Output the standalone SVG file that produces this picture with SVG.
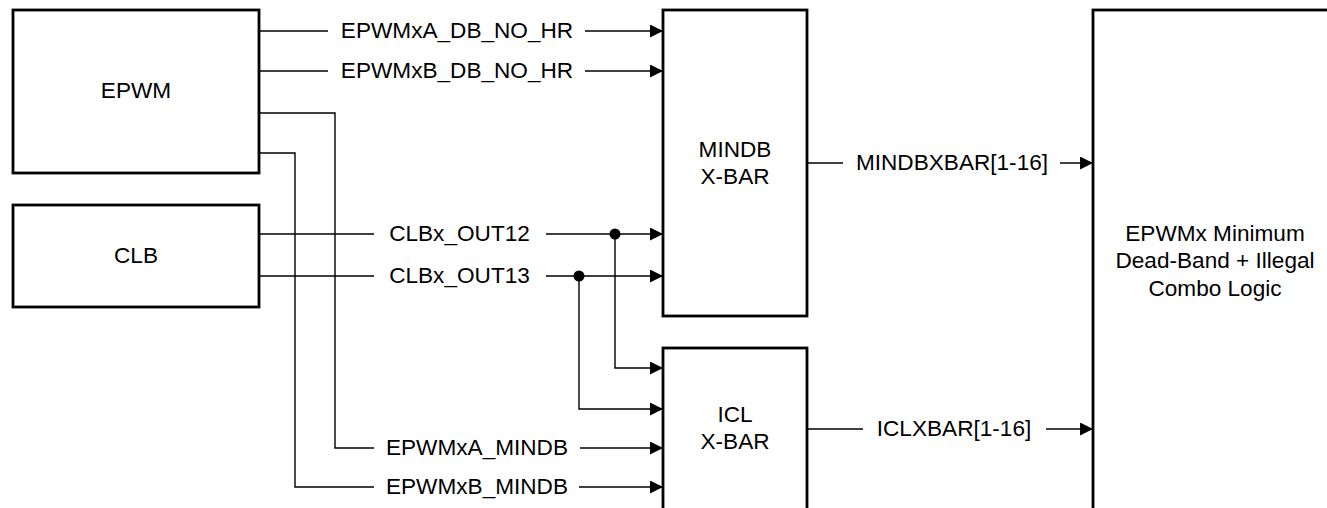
<svg xmlns="http://www.w3.org/2000/svg" width="1327" height="508" viewBox="0 0 1327 508">
<style>
.box{fill:#fff;stroke:#000;stroke-width:2.8}
.w{fill:none;stroke:#000;stroke-width:1.4}
text{font-family:"Liberation Sans",Arial,sans-serif;font-size:22.6px;fill:#000}
.c{text-anchor:middle}
</style>
<defs>
<marker id="ah" markerUnits="userSpaceOnUse" markerWidth="14" markerHeight="13" refX="13" refY="6.5" orient="auto">
<path d="M0,0 L13,6.5 L0,13 z" fill="#000"/>
</marker>
</defs>
<rect width="1327" height="508" fill="#fff"/>
<g id="epwm"><rect class="box" x="13" y="10" width="246" height="163"/><text class="c" x="136" y="98">EPWM</text></g>
<g id="clb"><rect class="box" x="13" y="205" width="246" height="102"/><text class="c" x="136" y="263">CLB</text></g>
<g id="mindb"><rect class="box" x="663" y="10" width="144" height="306"/><text class="c" x="735" y="157">MINDB</text><text class="c" x="735" y="184">X-BAR</text></g>
<g id="icl"><rect class="box" x="663" y="348" width="144" height="200"/><text class="c" x="735" y="422">ICL</text><text class="c" x="735" y="449">X-BAR</text></g>
<g id="logic"><rect class="box" x="1093" y="10" width="300" height="560"/><text class="c" x="1215" y="241">EPWMx Minimum</text><text class="c" x="1215" y="268">Dead-Band + Illegal</text><text class="c" x="1215" y="296">Combo Logic</text></g>
<g id="connectors">
<path class="w" d="M259,31 H328"/><path class="w" d="M585,31 H663" marker-end="url(#ah)"/>
<path class="w" d="M259,71 H328"/><path class="w" d="M585,71 H663" marker-end="url(#ah)"/>
<path class="w" d="M259,234 H374"/><path class="w" d="M546,234 H663" marker-end="url(#ah)"/>
<path class="w" d="M259,276 H374"/><path class="w" d="M546,276 H663" marker-end="url(#ah)"/>
<path class="w" d="M615,234 V368 H663" marker-end="url(#ah)"/>
<path class="w" d="M579,276 V409 H663" marker-end="url(#ah)"/>
<circle cx="615" cy="234" r="5.5" fill="#000"/>
<circle cx="579" cy="276" r="5.5" fill="#000"/>
<path class="w" d="M259,113 H335 V448 H374"/><path class="w" d="M580,448 H663" marker-end="url(#ah)"/>
<path class="w" d="M259,153 H295 V487 H374"/><path class="w" d="M579,487 H663" marker-end="url(#ah)"/>
<path class="w" d="M807,163 H843"/><path class="w" d="M1060,163 H1093" marker-end="url(#ah)"/>
<path class="w" d="M807,429 H863"/><path class="w" d="M1046,429 H1093" marker-end="url(#ah)"/>
</g>
<g id="labels">
<text class="c" x="457" y="38">EPWMxA_DB_NO_HR</text>
<text class="c" x="457" y="78">EPWMxB_DB_NO_HR</text>
<text class="c" x="459.5" y="241">CLBx_OUT12</text>
<text class="c" x="459.5" y="283">CLBx_OUT13</text>
<text class="c" x="477" y="455">EPWMxA_MINDB</text>
<text class="c" x="477" y="494">EPWMxB_MINDB</text>
<text class="c" x="952" y="170">MINDBXBAR[1-16]</text>
<text class="c" x="954" y="436">ICLXBAR[1-16]</text>
</g>
</svg>
